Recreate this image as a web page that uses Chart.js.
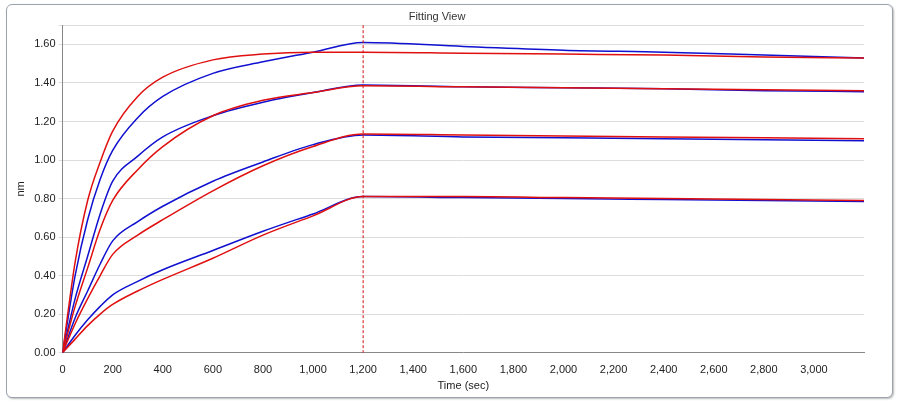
<!DOCTYPE html>
<html><head><meta charset="utf-8">
<script src="https://cdn.jsdelivr.net/npm/chart.js@4"></script>
<style>
html,body{margin:0;padding:0;background:#fff;}
#wrap{position:absolute;left:6px;top:4px;width:885px;height:392px;border:1px solid #9aa3ad;border-radius:6px;background:#fff;box-shadow:1px 1px 2px #bbb;}
canvas{position:absolute;left:0;top:0;}
</style></head><body>
<div id="wrap"><canvas id="c" width="885" height="392"></canvas></div>
<script>
const allTimes = [0,50,100,150,200,300,400,600,800,1000,1200,1600,2000,2400,2800,3200];
const blue1 = [0,0.40,0.69,0.90,1.05,1.22,1.33,1.45,1.51,1.56,1.61, 1.59,1.57,1.56,1.545,1.53];
const red1  = [0,0.47,0.79,0.99,1.15,1.33,1.43,1.52,1.55,1.56,1.56, 1.555,1.55,1.545,1.535,1.53];
const blue2 = [0,0.28,0.50,0.72,0.89,1.02,1.12,1.23,1.30,1.35,1.39, 1.38,1.375,1.37,1.36,1.355];
const red2  = [0,0.24,0.44,0.64,0.79,0.95,1.07,1.23,1.31,1.35,1.385, 1.38,1.375,1.37,1.365,1.36];
const blue3 = [0,0.18,0.32,0.46,0.58,0.68,0.76,0.89,0.99,1.08,1.13, 1.12,1.115,1.11,1.105,1.10];
const red3  = [0,0.15,0.28,0.40,0.51,0.61,0.69,0.84,0.97,1.07,1.135, 1.13,1.125,1.12,1.115,1.11];
const blue4 = [0,0.09,0.17,0.24,0.30,0.37,0.43,0.53,0.63,0.72,0.81, 0.805,0.80,0.795,0.79,0.785];
const red4  = [0,0.07,0.14,0.20,0.25,0.32,0.38,0.49,0.61,0.71,0.81, 0.81,0.805,0.80,0.795,0.79];
function pts(v){return allTimes.map((t,i)=>({x:t,y:v[i]}));}
const series=[[red1,'#e01010'],[red2,'#e01010'],[red3,'#e01010'],[red4,'#e01010'],[blue1,'#1010d0'],[blue2,'#1010d0'],[blue3,'#1010d0'],[blue4,'#1010d0']];
const vline={id:'vline',afterDatasetsDraw(ch){const {ctx,chartArea:a,scales:{x}}=ch;const px=x.getPixelForValue(1200);ctx.save();ctx.strokeStyle='#d01010';ctx.setLineDash([3,2]);ctx.lineWidth=1;ctx.beginPath();ctx.moveTo(px,a.top);ctx.lineTo(px,a.bottom);ctx.stroke();ctx.restore();}};
new Chart(document.getElementById('c'),{type:'scatter',
data:{datasets:series.map(([v,c])=>({data:pts(v),borderColor:c,showLine:true,pointRadius:0,borderWidth:1.5,cubicInterpolationMode:'monotone',fill:false}))},
options:{responsive:false,animation:false,
layout:{padding:{left:3,right:28,top:0,bottom:4}},
plugins:{legend:{display:false},tooltip:{enabled:false},
title:{display:true,text:'Fitting View',color:'#333',font:{family:'Liberation Sans',size:11,weight:'normal'},padding:{top:5,bottom:2}}},
scales:{
x:{type:'linear',min:0,max:3200,grid:{display:false},border:{color:'#888'},
 ticks:{stepSize:200,color:'#222',font:{family:'Liberation Sans',size:11},maxRotation:0,autoSkip:false,callback:v=>v>=3200?'':v.toLocaleString('en-US')},
 title:{display:true,text:'Time (sec)',color:'#222',font:{family:'Liberation Sans',size:11},padding:0}},
y:{min:0,max:1.7,grid:{color:'#ddd',lineWidth:1,tickLength:4},border:{color:'#888'},
 ticks:{stepSize:0.2,color:'#222',font:{family:'Liberation Sans',size:11},callback:v=>v>1.65?'':v.toFixed(2)},
 title:{display:true,text:'nm',color:'#222',font:{family:'Liberation Sans',size:11}}}}},
plugins:[vline]});
</script></body></html>
